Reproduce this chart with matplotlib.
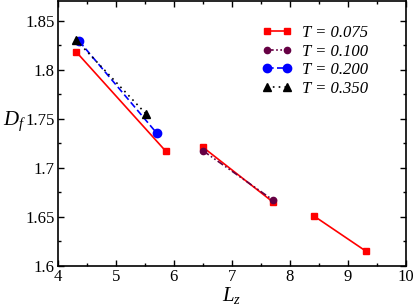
import numpy as np
import matplotlib
matplotlib.use("Agg")
import matplotlib.pyplot as plt
from matplotlib.ticker import MultipleLocator

plt.rcParams["font.family"] = ["Liberation Serif", "DejaVu Serif"]
plt.rcParams["mathtext.fontset"] = "custom"
plt.rcParams["mathtext.it"] = "Liberation Serif:italic"
plt.rcParams["mathtext.rm"] = "Liberation Serif"

# data (nan = break in the line)
lz_075 = [4.32, 5.86, np.nan, 6.50, 7.71, np.nan, 8.41, 9.31]
df_075 = [1.818, 1.717, np.nan, 1.721, 1.665, np.nan, 1.651, 1.615]

lz_100 = [6.51, 7.71]
df_100 = [1.717, 1.667]

lz_200 = [4.37, 5.71]
df_200 = [1.829, 1.735]

lz_350 = [4.32, 5.52]
df_350 = [1.830, 1.755]

labels = ["T = 0.075", "T = 0.100", "T = 0.200", "T = 0.350"]
yticks = [1.6, 1.65, 1.7, 1.75, 1.8, 1.85]
ytick_labels = ["1.6", "1.65", "1.7", "1.75", "1.8", "1.85"]

fig = plt.figure(figsize=(4.15, 3.08), dpi=100)
ax = fig.add_axes([0.139, 0.137, 0.839, 0.860])

ax.plot(lz_075, df_075, "-", color="#ff0000", lw=1.2, marker="s", ms=5, label=labels[0])
ax.plot(lz_100, df_100, color="#660044", lw=1.2, ls=(0, (4, 1.5, 1, 1.5, 1, 1.5)),
        marker="o", ms=4.5, label=labels[1])
ax.plot(lz_200, df_200, color="#0000ff", lw=1.2, ls=(0, (4, 2)), marker="o", ms=6, label=labels[2])
ax.plot(lz_350, df_350, color="black", lw=1.2, ls=(0, (1, 2.5)), marker="^", ms=6, label=labels[3])

ax.set_xlim(4, 10)
ax.set_ylim(1.6, 1.87)
ax.xaxis.set_major_locator(MultipleLocator(1))
ax.xaxis.set_minor_locator(MultipleLocator(0.5))
ax.yaxis.set_minor_locator(MultipleLocator(0.025))
ax.set_yticks(yticks)
ax.set_yticklabels(ytick_labels)

ax.tick_params(which="both", direction="in", top=True, right=True, labelsize=12, pad=2)
ax.tick_params(which="major", length=4, width=1)
ax.tick_params(which="minor", length=2.5, width=1)
for s in ax.spines.values():
    s.set_linewidth(1.2)

ax.set_xlabel("$L_z$", fontsize=15, labelpad=0)
ax.set_ylabel("$D_f$", fontsize=15, rotation=0, labelpad=8)

leg = ax.legend(loc="upper right", bbox_to_anchor=(0.935, 0.965), frameon=False, numpoints=2,
                handlelength=1.8, fontsize=12, labelspacing=0.15, handletextpad=0.6)
for t in leg.get_texts():
    t.set_fontstyle("italic")

fig.savefig("out.png", dpi=100)
